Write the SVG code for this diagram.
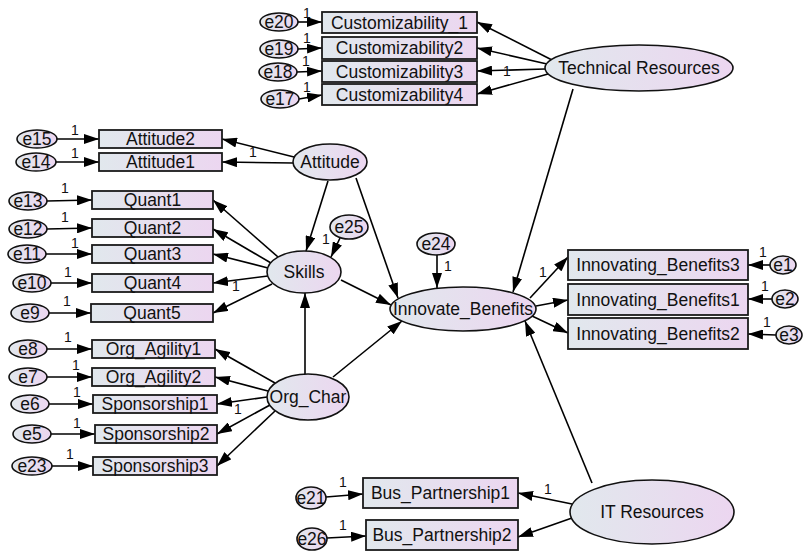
<svg xmlns="http://www.w3.org/2000/svg" width="803" height="551" viewBox="0 0 803 551">
<defs>
<linearGradient id="g" x1="0" y1="0" x2="1" y2="0">
<stop offset="0" stop-color="#e1e8ed"/>
<stop offset="1" stop-color="#ecd6f0"/>
</linearGradient>
<marker id="ah" markerUnits="userSpaceOnUse" markerWidth="16" markerHeight="10" refX="15" refY="5" orient="auto">
<path d="M0,0 L15,5 L0,10 z" fill="#000"/>
</marker>
<style>
.box{fill:url(#g);stroke:#1a1a1a;stroke-width:1.8}
.lat{fill:url(#g);stroke:#111;stroke-width:1.6}
text{font-family:"Liberation Sans",Arial,sans-serif;fill:#111}
.t{font-size:17.5px;text-anchor:middle;dominant-baseline:central}
.one{font-size:14px;fill:#111}
#connectors line{stroke:#000;stroke-width:1.6;marker-end:url(#ah)}
</style>
</defs>
<rect width="803" height="551" fill="#fff"/>

<g id="connectors">
<line x1="552" y1="60" x2="477" y2="22"/>
<line x1="547" y1="64" x2="477" y2="48"/>
<line x1="545" y1="69" x2="477" y2="71"/>
<line x1="548" y1="74" x2="477" y2="94"/>
<line x1="298" y1="22" x2="322" y2="22"/>
<line x1="298" y1="49" x2="322" y2="48"/>
<line x1="297" y1="72" x2="322" y2="71"/>
<line x1="299" y1="99" x2="322" y2="95"/>
<line x1="294" y1="157" x2="222" y2="139"/>
<line x1="293" y1="163" x2="222" y2="162"/>
<line x1="57" y1="139" x2="99" y2="139"/>
<line x1="56" y1="162" x2="99" y2="162"/>
<line x1="47" y1="201" x2="92" y2="200"/>
<line x1="47" y1="229" x2="92" y2="228"/>
<line x1="46" y1="254" x2="92" y2="254"/>
<line x1="51" y1="283" x2="92" y2="283"/>
<line x1="49" y1="313" x2="91" y2="313"/>
<line x1="47" y1="349" x2="92" y2="349"/>
<line x1="47" y1="377" x2="92" y2="377"/>
<line x1="49" y1="404" x2="93" y2="404"/>
<line x1="51" y1="434" x2="95" y2="434"/>
<line x1="52" y1="466" x2="93" y2="466"/>
<line x1="278" y1="257" x2="213" y2="200"/>
<line x1="271" y1="263" x2="213" y2="229"/>
<line x1="268" y1="268" x2="213" y2="254"/>
<line x1="268" y1="276" x2="213" y2="283"/>
<line x1="272" y1="284" x2="213" y2="313"/>
<line x1="275" y1="383" x2="215" y2="349"/>
<line x1="268" y1="391" x2="215" y2="377"/>
<line x1="267" y1="397" x2="217" y2="404"/>
<line x1="270" y1="405" x2="217" y2="434"/>
<line x1="275" y1="411" x2="217" y2="466"/>
<line x1="305" y1="374" x2="305" y2="293"/>
<line x1="333" y1="377" x2="402" y2="321"/>
<line x1="341" y1="280" x2="391" y2="305"/>
<line x1="356" y1="178" x2="398" y2="298"/>
<line x1="328" y1="181" x2="306" y2="251"/>
<line x1="340" y1="238" x2="331" y2="257"/>
<line x1="437" y1="255" x2="437" y2="288"/>
<line x1="573" y1="89" x2="513" y2="292"/>
<line x1="592" y1="483" x2="525" y2="321"/>
<line x1="530" y1="298" x2="568" y2="257"/>
<line x1="536" y1="306" x2="568" y2="300"/>
<line x1="532" y1="316" x2="568" y2="333"/>
<line x1="770" y1="265" x2="748" y2="265"/>
<line x1="772" y1="299" x2="748" y2="299"/>
<line x1="776" y1="335" x2="748" y2="334"/>
<line x1="572" y1="504" x2="518" y2="493"/>
<line x1="572" y1="518" x2="518" y2="537"/>
<line x1="326" y1="497" x2="363" y2="494"/>
<line x1="327" y1="538" x2="366" y2="536"/>
</g>

<g id="labels1">
<text class="one" x="303" y="18">1</text>
<text class="one" x="303" y="43">1</text>
<text class="one" x="302" y="66">1</text>
<text class="one" x="303" y="92">1</text>
<text class="one" x="503" y="76">1</text>
<text class="one" x="71" y="135">1</text>
<text class="one" x="71" y="158">1</text>
<text class="one" x="249" y="157">1</text>
<text class="one" x="61" y="193">1</text>
<text class="one" x="61" y="222">1</text>
<text class="one" x="71" y="248">1</text>
<text class="one" x="64" y="277">1</text>
<text class="one" x="63" y="306">1</text>
<text class="one" x="64" y="342">1</text>
<text class="one" x="72" y="370">1</text>
<text class="one" x="73" y="397">1</text>
<text class="one" x="73" y="428">1</text>
<text class="one" x="66" y="459">1</text>
<text class="one" x="232" y="291">1</text>
<text class="one" x="234" y="414">1</text>
<text class="one" x="322" y="244">1</text>
<text class="one" x="444" y="271">1</text>
<text class="one" x="539" y="277">1</text>
<text class="one" x="759" y="257">1</text>
<text class="one" x="761" y="291">1</text>
<text class="one" x="763" y="327">1</text>
<text class="one" x="544" y="494">1</text>
<text class="one" x="339" y="487">1</text>
<text class="one" x="339" y="530">1</text>
</g>

<g id="e20"><ellipse class="lat" cx="279" cy="22" rx="19" ry="9"/><text class="t" x="279" y="22">e20</text></g>
<g id="e19"><ellipse class="lat" cx="279" cy="49" rx="19" ry="9"/><text class="t" x="279" y="49">e19</text></g>
<g id="e18"><ellipse class="lat" cx="278" cy="72" rx="19" ry="9"/><text class="t" x="278" y="72">e18</text></g>
<g id="e17"><ellipse class="lat" cx="280" cy="99" rx="19" ry="9"/><text class="t" x="280" y="99">e17</text></g>

<g id="cust1"><rect class="box" x="322" y="12" width="155" height="21"/><text class="t" x="399.5" y="22.5">Customizability_1</text></g>
<g id="cust2"><rect class="box" x="322" y="37" width="155" height="22"/><text class="t" x="399.5" y="48">Customizability2</text></g>
<g id="cust3"><rect class="box" x="322" y="61" width="155" height="21"/><text class="t" x="399.5" y="71.5">Customizability3</text></g>
<g id="cust4"><rect class="box" x="322" y="84" width="155" height="21"/><text class="t" x="399.5" y="94.5">Customizability4</text></g>

<g id="techres"><ellipse class="lat" cx="639" cy="68" rx="94" ry="23"/><text class="t" x="639" y="68">Technical Resources</text></g>

<g id="e15"><ellipse class="lat" cx="37" cy="139" rx="20" ry="9"/><text class="t" x="37" y="139">e15</text></g>
<g id="e14"><ellipse class="lat" cx="36" cy="162" rx="20" ry="9"/><text class="t" x="36" y="162">e14</text></g>
<g id="att2"><rect class="box" x="99" y="130" width="123" height="18"/><text class="t" x="160.5" y="139">Attitude2</text></g>
<g id="att1"><rect class="box" x="99" y="153" width="123" height="18"/><text class="t" x="160.5" y="162">Attitude1</text></g>
<g id="attitude"><ellipse class="lat" cx="330" cy="162" rx="37" ry="18"/><text class="t" x="330" y="162">Attitude</text></g>

<g id="e13"><ellipse class="lat" cx="28" cy="201" rx="19" ry="9"/><text class="t" x="28" y="201">e13</text></g>
<g id="e12"><ellipse class="lat" cx="28" cy="229" rx="19" ry="9"/><text class="t" x="28" y="229">e12</text></g>
<g id="e11"><ellipse class="lat" cx="27" cy="254" rx="19" ry="9"/><text class="t" x="27" y="254">e11</text></g>
<g id="e10"><ellipse class="lat" cx="32" cy="283" rx="19" ry="9"/><text class="t" x="32" y="283">e10</text></g>
<g id="e9"><ellipse class="lat" cx="30" cy="313" rx="19" ry="9"/><text class="t" x="30" y="313">e9</text></g>
<g id="q1"><rect class="box" x="92" y="191" width="121" height="18"/><text class="t" x="152.5" y="200">Quant1</text></g>
<g id="q2"><rect class="box" x="92" y="219" width="121" height="18"/><text class="t" x="152.5" y="228">Quant2</text></g>
<g id="q3"><rect class="box" x="92" y="245" width="121" height="18"/><text class="t" x="152.5" y="254">Quant3</text></g>
<g id="q4"><rect class="box" x="92" y="274" width="121" height="18"/><text class="t" x="152.5" y="283">Quant4</text></g>
<g id="q5"><rect class="box" x="91" y="304" width="122" height="18"/><text class="t" x="152" y="313">Quant5</text></g>

<g id="e25"><ellipse class="lat" cx="349" cy="227" rx="19" ry="12"/><text class="t" x="349" y="227">e25</text></g>
<g id="skills"><ellipse class="lat" cx="304" cy="272" rx="37" ry="21"/><text class="t" x="304" y="272">Skills</text></g>

<g id="e8"><ellipse class="lat" cx="28" cy="349" rx="19" ry="9"/><text class="t" x="28" y="349">e8</text></g>
<g id="e7"><ellipse class="lat" cx="28" cy="377" rx="19" ry="9"/><text class="t" x="28" y="377">e7</text></g>
<g id="e6"><ellipse class="lat" cx="30" cy="404" rx="19" ry="9"/><text class="t" x="30" y="404">e6</text></g>
<g id="e5"><ellipse class="lat" cx="32" cy="434" rx="19" ry="9"/><text class="t" x="32" y="434">e5</text></g>
<g id="e23"><ellipse class="lat" cx="32" cy="466" rx="20" ry="9"/><text class="t" x="32" y="466">e23</text></g>
<g id="oa1"><rect class="box" x="92" y="340" width="123" height="18"/><text class="t" x="153.5" y="349">Org_Agility1</text></g>
<g id="oa2"><rect class="box" x="92" y="368" width="123" height="18"/><text class="t" x="153.5" y="377">Org_Agility2</text></g>
<g id="sp1"><rect class="box" x="93" y="395" width="124" height="18"/><text class="t" x="155" y="404">Sponsorship1</text></g>
<g id="sp2"><rect class="box" x="95" y="425" width="122" height="18"/><text class="t" x="156" y="434">Sponsorship2</text></g>
<g id="sp3"><rect class="box" x="93" y="457" width="124" height="18"/><text class="t" x="155" y="466">Sponsorship3</text></g>
<g id="orgchar"><ellipse class="lat" cx="308" cy="397" rx="41" ry="23"/><text class="t" x="308" y="397">Org_Char</text></g>

<g id="e24"><ellipse class="lat" cx="436" cy="244" rx="19" ry="11"/><text class="t" x="436" y="244">e24</text></g>
<g id="innovate"><ellipse class="lat" cx="463" cy="309" rx="73" ry="22"/><text class="t" x="463" y="309">Innovate_Benefits</text></g>

<g id="ib3"><rect class="box" x="568" y="250" width="180" height="30"/><text class="t" x="658" y="265">Innovating_Benefits3</text></g>
<g id="ib1"><rect class="box" x="568" y="284" width="180" height="31"/><text class="t" x="658" y="299.5">Innovating_Benefits1</text></g>
<g id="ib2"><rect class="box" x="568" y="318" width="180" height="31"/><text class="t" x="658" y="333.5">Innovating_Benefits2</text></g>
<g id="e1"><ellipse class="lat" cx="783" cy="265" rx="13" ry="9"/><text class="t" x="783" y="265">e1</text></g>
<g id="e2"><ellipse class="lat" cx="785" cy="299" rx="13" ry="9"/><text class="t" x="785" y="299">e2</text></g>
<g id="e3"><ellipse class="lat" cx="789" cy="335" rx="13" ry="9"/><text class="t" x="789" y="335">e3</text></g>

<g id="e21"><ellipse class="lat" cx="311" cy="498" rx="15" ry="11"/><text class="t" x="311" y="498">e21</text></g>
<g id="e26"><ellipse class="lat" cx="312" cy="539" rx="15" ry="11"/><text class="t" x="312" y="539">e26</text></g>
<g id="bp1"><rect class="box" x="363" y="478" width="155" height="30"/><text class="t" x="440.5" y="493">Bus_Partnership1</text></g>
<g id="bp2"><rect class="box" x="366" y="520" width="152" height="30"/><text class="t" x="442" y="535">Bus_Partnership2</text></g>
<g id="itres"><ellipse class="lat" cx="652" cy="512" rx="82" ry="32"/><text class="t" x="652" y="512">IT Resources</text></g>
</svg>
